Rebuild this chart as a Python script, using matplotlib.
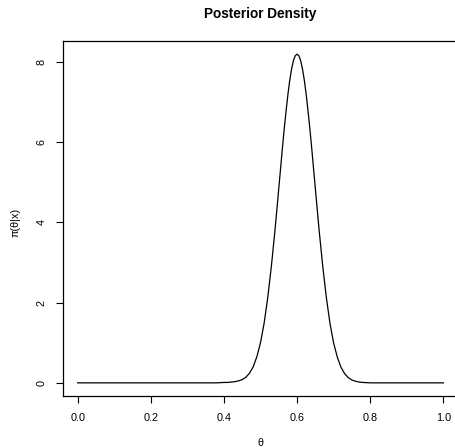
#=========================================================================
# plot.py
#=========================================================================
# Posterior density curve, styled after an R base-graphics plot.

import matplotlib
matplotlib.use('Agg')
import matplotlib.pyplot as plt

#-------------------------------------------------------------------------
# Data
#-------------------------------------------------------------------------

theta = [0.00, 0.20, 0.30, 0.38, 0.40, 0.41, 0.42, 0.43, 0.44, 0.45,
         0.46, 0.47, 0.48, 0.49, 0.50, 0.51, 0.52, 0.53, 0.54, 0.545,
         0.55, 0.555, 0.56, 0.565, 0.57, 0.575, 0.58, 0.585, 0.59, 0.595,
         0.60, 0.605, 0.61, 0.615, 0.62, 0.625, 0.63, 0.635, 0.64, 0.645,
         0.65, 0.66, 0.67, 0.68, 0.69, 0.70, 0.71, 0.72, 0.73, 0.74,
         0.75, 0.76, 0.77, 0.78, 0.80, 0.90, 1.00]

density = [0.00, 0.00, 0.00, 0.00, 0.01, 0.01, 0.02, 0.03, 0.05, 0.08,
           0.14, 0.24, 0.40, 0.65, 1.00, 1.49, 2.14, 2.93, 3.84, 4.34,
           4.85, 5.35, 5.86, 6.34, 6.78, 7.19, 7.54, 7.82, 8.03, 8.15,
           8.19, 8.15, 8.02, 7.81, 7.53, 7.18, 6.77, 6.33, 5.85, 5.34,
           4.84, 3.83, 2.92, 2.13, 1.48, 0.99, 0.64, 0.39, 0.23, 0.13,
           0.07, 0.04, 0.02, 0.01, 0.00, 0.00, 0.00]

x_ticks = [0.0, 0.2, 0.4, 0.6, 0.8, 1.0]
y_ticks = [0, 2, 4, 6, 8]

#-------------------------------------------------------------------------
# Configure matplotlib
#-------------------------------------------------------------------------

plt.rcParams['font.family'] = ['Liberation Sans', 'DejaVu Sans']
plt.rcParams['font.size']   = 7.8

#-------------------------------------------------------------------------
# Create plot
#-------------------------------------------------------------------------

fig = plt.figure( figsize=(4.55, 4.47), dpi=100 )
ax  = fig.add_axes( [ 63/455, 51/447, 395/455, 355/447 ] )

ax.plot( theta, density, color='black', linewidth=0.9 )

ymax = max(density)
ax.set_xlim( -0.04, 1.04 )
ax.set_ylim( -0.04*ymax, 1.04*ymax )

ax.set_xticks( x_ticks )
ax.set_xticklabels( [ '%.1f' % t for t in x_ticks ] )
ax.set_yticks( y_ticks )
ax.set_yticklabels( [ str(t) for t in y_ticks ], rotation=90, va='center' )

ax.tick_params( direction='out', length=5, width=0.8, pad=7, color='black' )

for s in ax.spines.values():
  s.set_linewidth(0.9)
  s.set_color('black')

# Axis titles placed like R's mtext lines

fig.text( 260/455, 1 - 443/447, '\u03b8', ha='center', va='center' )
fig.text( 16/455, 1 - 222/447, '\u03c0(\u03b8|x)', ha='center', va='center',
          rotation=90 )

fig.text( 260/455, 1 - 14/447, 'Posterior Density', ha='center', va='center',
          fontsize=9.8, fontweight='bold' )

#-------------------------------------------------------------------------
# Save
#-------------------------------------------------------------------------

plt.savefig( 'out.png', dpi=100 )
